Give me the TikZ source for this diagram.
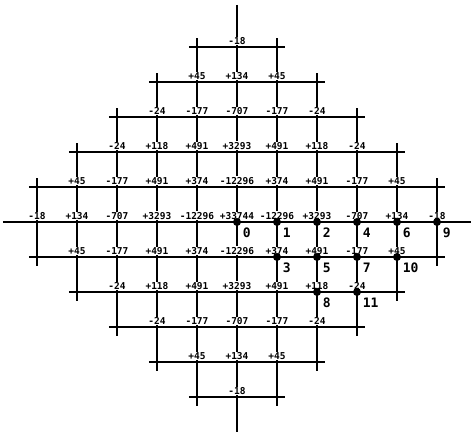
\documentclass[tikz,border=0pt]{standalone}
\usepackage{fontspec}
\newfontfamily\gridfont{DejaVu Sans Mono}
\tikzset{
  val/.style={font=\gridfont\bfseries\fontsize{9.5}{9.5}\selectfont, fill=white, inner sep=0.5pt, anchor=south, yshift=1.5pt},
  dotpt/.style={circle, fill=black, inner sep=0pt, minimum size=8pt},
  ptnum/.style={font=\gridfont\bfseries\fontsize{13}{13}\selectfont, inner sep=0pt, anchor=north west, xshift=5pt, yshift=-5pt},
}
\begin{document}
\begin{tikzpicture}[x=40pt,y=35pt,line width=1.6pt]
\useasboundingbox (-237pt,-212pt) rectangle (238pt,222pt);
% horizontal lines
\draw (-5.85,0) -- (5.85,0);
\foreach \r in {1,...,5} {
  \pgfmathtruncatemacro\e{6-\r}
  \draw (-\e-0.2,\r) -- (\e+0.2,\r);
  \draw (-\e-0.2,-\r) -- (\e+0.2,-\r);
}
% vertical lines
\draw (0,6.2) -- (0,-6.0);
\foreach \c in {1,...,5} {
  \pgfmathtruncatemacro\e{6-\c}
  \draw (\c,\e+0.25) -- (\c,-\e-0.25);
  \draw (-\c,\e+0.25) -- (-\c,-\e-0.25);
}
% values at the grid points
\foreach \r/\vals in {5/{-18},
    4/{+45,+134,+45},
    3/{-24,-177,-707,-177,-24},
    2/{-24,+118,+491,+3293,+491,+118,-24},
    1/{+45,-177,+491,+374,-12296,+374,+491,-177,+45},
    0/{-18,+134,-707,+3293,-12296,+33744,-12296,+3293,-707,+134,-18},
    -1/{+45,-177,+491,+374,-12296,+374,+491,-177,+45},
    -2/{-24,+118,+491,+3293,+491,+118,-24},
    -3/{-24,-177,-707,-177,-24},
    -4/{+45,+134,+45},
    -5/{-18}} {
  \pgfmathtruncatemacro\s{5-abs(\r)}
  \foreach \v [count=\i] in \vals {
    \pgfmathtruncatemacro\c{\i-1-\s}
    \node[val] (v\r-\i) at (\c,\r) {\v};
  }
}
% numbered points
\foreach \n/\c/\r in {0/0/0, 1/1/0, 2/2/0, 4/3/0, 6/4/0, 9/5/0,
    3/1/-1, 5/2/-1, 7/3/-1, 10/4/-1, 8/2/-2, 11/3/-2} {
  \node[dotpt] (p\n) at (\c,\r) {};
  \node[ptnum] (l\n) at (p\n.center) {\n};
}
\end{tikzpicture}
\end{document}
